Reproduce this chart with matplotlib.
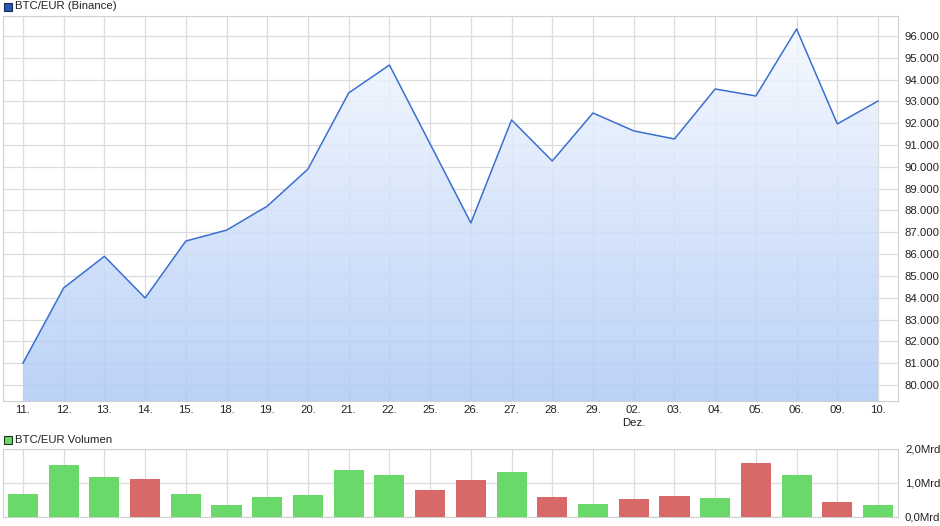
import numpy as np
import matplotlib
matplotlib.use("Agg")
import matplotlib.pyplot as plt
from matplotlib.patches import Rectangle

# =========================
# DATA
# =========================
days = ["11.", "12.", "13.", "14.", "15.", "18.", "19.", "20.", "21.", "22.", "25.",
        "26.", "27.", "28.", "29.", "02.", "03.", "04.", "05.", "06.", "09.", "10."]
price = [81000, 84450, 85900, 83990, 86600, 87100, 88200, 89900, 93390, 94670, 91050,
         87430, 92150, 90270, 92470, 91650, 91280, 93570, 93250, 96320, 91970, 93020]
volume = [0.69, 1.53, 1.17, 1.11, 0.69, 0.36, 0.60, 0.66, 1.38, 1.23, 0.78,
          1.08, 1.32, 0.60, 0.39, 0.54, 0.63, 0.57, 1.59, 1.23, 0.45, 0.36]
up = [1, 1, 1, 0, 1, 1, 1, 1, 1, 1, 0,
      0, 1, 0, 1, 0, 0, 1, 0, 1, 0, 1]
price_ticks = list(range(80000, 96001, 1000))
vol_ticks = [0.0, 1.0, 2.0]

# =========================
# STYLE
# =========================
plt.rcParams['font.family'] = ['Liberation Sans', 'DejaVu Sans']
LINE = "#3a6fd0"
GREEN = "#6ad96a"
RED = "#d96868"
GRID = "#dcdcdc"
BORDER = "#d0d0d0"
FILL_ALPHA = 0.85

fig = plt.figure(figsize=(9.4, 5.26), dpi=100)
x = np.arange(len(days))
xlim = (-0.49, len(days) - 1 + 0.49)

# =========================
# PRICE PANEL
# =========================
ax = fig.add_axes([3 / 940, 1 - 401 / 526, 895 / 940, 385 / 526])
ymin, ymax = 79266, 96917
ax.set_xlim(*xlim)
ax.set_ylim(ymin, ymax)

# gradient fill under the line (semi-transparent so the grid shows through)
grad = np.linspace(0, 1, 256).reshape(-1, 1)
top_c = np.array([0xf7, 0xfa, 0xff]) / 255
bot_c = np.array([0xbb, 0xd2, 0xf7]) / 255
want = top_c + (bot_c - top_c) * grad[..., None]
rgb = np.clip((want - (1 - FILL_ALPHA)) / FILL_ALPHA, 0, 1)
img = np.concatenate([rgb, np.full((256, 1, 1), FILL_ALPHA)], axis=2)
poly = ax.fill_between(x, price, ymin, color="none", lw=0)
im = ax.imshow(img, extent=[x[0], x[-1], ymin, 96600], aspect="auto",
               origin="upper", zorder=1)
im.set_clip_path(poly.get_paths()[0], transform=ax.transData)
ax.plot(x, price, color=LINE, lw=1.1, zorder=3)

ax.set_xticks(x)
ax.set_xticklabels(days)
ax.set_yticks(price_ticks)
ax.set_yticklabels([f"{v // 1000}.000" for v in price_ticks])
ax.yaxis.tick_right()
ax.grid(True, color=GRID, lw=0.9, zorder=0)
ax.set_axisbelow(True)
ax.tick_params(length=0, labelsize=8.2, colors="#222222", pad=3)
ax.tick_params(axis="y", pad=5)
for s in ax.spines.values():
    s.set_color(BORDER)
ax.text(x[15], ymin - 780, "Dez.", ha="center", va="top", fontsize=8.2, color="#222222")

fig.patches.append(Rectangle((4 / 940, 1 - 11 / 526), 8 / 940, 8 / 526, transform=fig.transFigure,
                             facecolor="#2458b8", edgecolor="#1a2a50", lw=0.8))
fig.text(15 / 940, 1 - 6 / 526, "BTC/EUR (Binance)", va="center", fontsize=8.2, color="#222222")

# =========================
# VOLUME PANEL
# =========================
av = fig.add_axes([3 / 940, 1 - 517 / 526, 895 / 940, 68 / 526])
av.bar(x, volume, width=0.74, color=[GREEN if u else RED for u in up], zorder=3)
av.set_xlim(*xlim)
av.set_ylim(0, 2.0)
av.set_xticks(x)
av.set_xticklabels([])
av.set_yticks(vol_ticks)
av.set_yticklabels([f"{v:.1f}".replace(".", ",") + "Mrd" for v in vol_ticks])
av.yaxis.tick_right()
av.grid(True, color=GRID, lw=0.9, zorder=0)
av.set_axisbelow(True)
av.tick_params(length=0, labelsize=8.2, colors="#222222", pad=5)
for s in av.spines.values():
    s.set_color(BORDER)

fig.patches.append(Rectangle((4 / 940, 1 - 444 / 526), 8 / 940, 8 / 526, transform=fig.transFigure,
                             facecolor=GREEN, edgecolor="#1a3a1a", lw=0.8))
fig.text(15 / 940, 1 - 440 / 526, "BTC/EUR Volumen", va="center", fontsize=8.2, color="#222222")

fig.savefig("out.png", dpi=100)
